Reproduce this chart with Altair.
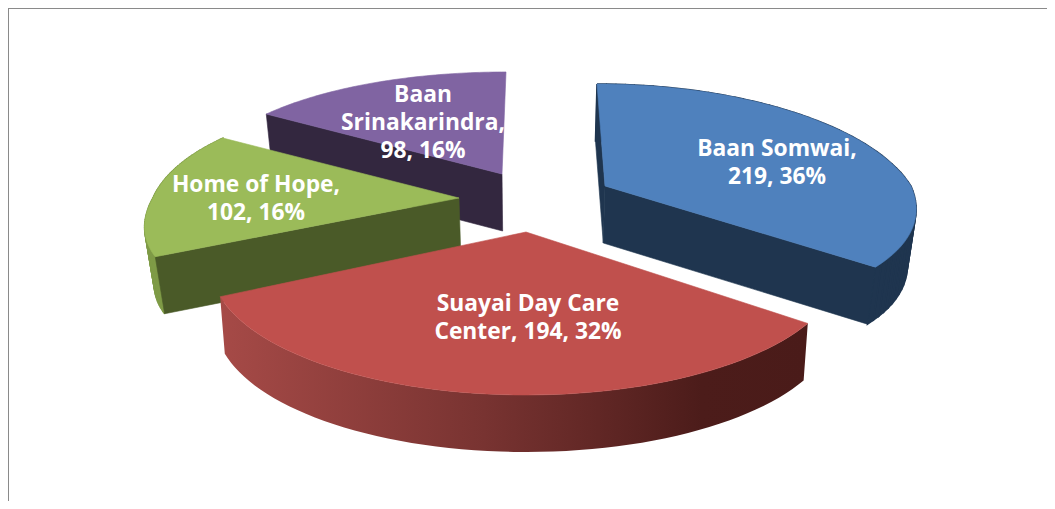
import math
import altair as alt
import pandas as pd

# ---- values ----
names = ["Baan Somwai", "Suayai Day Care Center", "Home of Hope", "Baan Srinakarindra"]
counts = [219, 194, 102, 98]
shares = [36, 32, 16, 16]
label_lines = [
    ["Baan Somwai,", "219, 36%"],
    ["Suayai Day Care", "Center, 194, 32%"],
    ["Home of Hope,", "102, 16%"],
    ["Baan", "Srinakarindra,", "98, 16%"],
]

# ---- layout / styling ----
W, H = 1039, 493
OFF = 8                # page margin
RX, RY, PERSP = 306.0, 125.5, 0.23
DEPTH = 57.0
CONVERGE_X = 530.0
converge = {0: 0.977, 1: 0.985, 2: 0.975, 3: 0.977}
apex = {0: (605, 186), 1: (526, 232), 2: (459, 198), 3: (502, 174)}
lean = {0: -8.0, 1: 0.0, 2: 0.0, 3: 4.0}
near_x = {0: 0.05, 1: -0.015, 2: 0.0, 3: 0.0}
near_y = {0: 0.18, 1: 0.0, 2: 0.2, 3: 0.0}
far_x = {0: 0.0, 1: 0.0, 2: 0.05, 3: 0.065}
top_col = ["#4f81bd", "#c0504d", "#9bbb59", "#8064a2"]
face_col = ["#1f354f", "#4a1b19", "#4a5a28", "#33273f"]
wall_col = {0: "#1f354f", 2: "#7f9b47"}
label_off = {0: (172, -23), 1: (2, 86), 2: (-203, 1), 3: (-79, -51)}
LINE_H = 28


def rim(i, theta):
    """Project a rim point of slice i (theta clockwise from the far side)."""
    u, c = math.sin(theta), math.cos(theta)
    s = 1.0 / (1.0 + PERSP * c)
    ax, ay = apex[i]
    nc, fc = max(-c, 0.0), max(c, 0.0)
    return (
        ax + RX * u * s * (1 - near_x[i] * nc + far_x[i] * fc) + lean[i] * fc,
        ay - RY * c * s * (1 - near_y[i] * nc),
    )


def lower(p, i):
    return (CONVERGE_X + (p[0] - CONVERGE_X) * converge[i], p[1] + DEPTH)


total = sum(counts)
bounds, acc = [], 0.0
for v in counts:
    bounds.append((acc / total * 2 * math.pi, (acc + v) / total * 2 * math.pi))
    acc += v

x_scale = alt.Scale(domain=[0, W], range=[0, W], nice=False, zero=False)
y_scale = alt.Scale(domain=[0, H], range=[0, H], nice=False, zero=False)


def to_df(polys):
    rows = []
    for seg, points in enumerate(polys):
        pts = list(points) + [points[0]]
        for k, p in enumerate(pts):
            rows.append({"x": p[0] - OFF, "y": p[1] - OFF, "i": k, "seg": seg})
    return pd.DataFrame(rows)


def poly(polys, fill, width=0.6):
    stroke = fill if isinstance(fill, str) else None
    kw = {"stroke": stroke, "strokeWidth": width} if stroke else {"strokeWidth": 0}
    return (
        alt.Chart(to_df(polys))
        .mark_line(fill=fill, interpolate="linear", **kw)
        .encode(
            x=alt.X("x:Q", scale=x_scale, axis=None),
            y=alt.Y("y:Q", scale=y_scale, axis=None),
            detail="seg:N",
            order=alt.Order("i:Q"),
        )
    )


red_gradient = alt.Gradient(
    gradient="linear",
    x1=0, x2=1, y1=0, y2=0,
    stops=[
        alt.GradientStop(offset=0.0, color="#a64a47"),
        alt.GradientStop(offset=0.45, color="#783331"),
        alt.GradientStop(offset=0.82, color="#4c1c1a"),
        alt.GradientStop(offset=1.0, color="#4a1b19"),
    ],
)

layers = []
N = 60
for i in [3, 2, 0, 1]:
    a0, a1 = bounds[i]
    arc = [rim(i, a0 + (a1 - a0) * k / N) for k in range(N + 1)]
    a = apex[i]
    low = [lower(p, i) for p in arc]
    if i == 1:
        layers.append(poly([arc + low[::-1]], red_gradient))
    elif i in wall_col:
        quads = [[arc[k], arc[k + 1], low[k + 1], low[k]] for k in range(N)]
        layers.append(poly(quads, wall_col[i], width=1.5))
    # the two cut faces, only where they turn to the viewer
    if arc[0][0] < a[0] and i != 1:
        layers.append(poly([[a, arc[0], low[0], lower(a, i)]], face_col[i]))
    if arc[-1][0] > a[0] and i == 0:
        layers.append(poly([[a, arc[-1], low[-1], lower(a, i)]], face_col[i]))
    layers.append(poly([[a] + arc], top_col[i]))

rows = []
for i, lines in enumerate(label_lines):
    ox, oy = label_off[i]
    for j, t in enumerate(lines):
        rows.append(
            {
                "x": apex[i][0] + ox - OFF,
                "y": apex[i][1] + oy + (j - (len(lines) - 1) / 2) * LINE_H - OFF,
                "t": t,
            }
        )
labels = (
    alt.Chart(pd.DataFrame(rows))
    .mark_text(font="Open Sans", fontSize=22.8, fontWeight="bold", color="white", align="center", baseline="middle")
    .encode(
        x=alt.X("x:Q", scale=x_scale, axis=None),
        y=alt.Y("y:Q", scale=y_scale, axis=None),
        text="t:N",
    )
)

frame_col = "#8a8a8a"
frame_top = alt.Chart(pd.DataFrame({"y": [0.0]})).mark_rule(color=frame_col, strokeWidth=2).encode(
    y=alt.Y("y:Q", scale=y_scale, axis=None), x=alt.value(0), x2=alt.value(W)
)
frame_left = alt.Chart(pd.DataFrame({"x": [0.0]})).mark_rule(color=frame_col, strokeWidth=2).encode(
    x=alt.X("x:Q", scale=x_scale, axis=None), y=alt.value(0), y2=alt.value(H)
)

chart = (
    alt.layer(frame_top, frame_left, *layers, labels)
    .properties(width=W, height=H, padding=0, background="white", autosize=alt.AutoSizeParams(type="none"))
    .configure_view(stroke=None)
)
chart.save("out.html", embed_options={"renderer": "svg", "actions": False})
